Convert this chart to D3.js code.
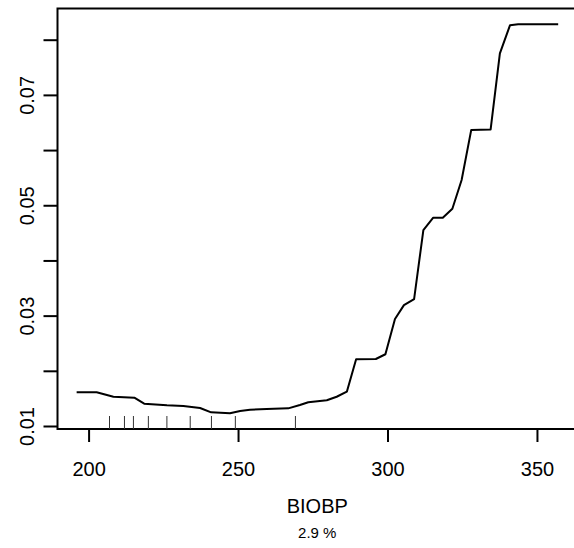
<!DOCTYPE html>
<html>
<head>
<meta charset="utf-8">
<script src="https://cdn.jsdelivr.net/npm/d3@7"></script>
<style>
html,body{margin:0;padding:0;background:#fff;}
svg{display:block;font-family:"Liberation Sans",Arial,Helvetica,sans-serif;}
</style>
</head>
<body>
<svg id="chart" width="574" height="548"></svg>
<script>
// Partial dependence of BIOBP
const xValues = [196.0, 202.7, 208.3, 215.3, 218.6, 226.2, 231.7, 237.3, 241.0, 247.3, 250.7, 254.0, 259.6, 266.8, 270.7, 273.5, 279.7, 283.0, 286.4, 289.5, 296.1, 299.3, 302.5, 305.5, 308.9, 312.0, 315.3, 318.5, 321.7, 324.8, 328.0, 334.5, 337.6, 341.0, 343.7, 357.1];
const yValues = [0.0161, 0.0161, 0.01531, 0.01513, 0.01404, 0.01375, 0.01362, 0.01326, 0.01248, 0.0123, 0.01272, 0.01295, 0.0131, 0.0132, 0.0138, 0.0143, 0.01466, 0.0153, 0.01622, 0.0221, 0.02214, 0.0230, 0.02938, 0.0319, 0.0330, 0.04551, 0.04774, 0.04774, 0.04937, 0.05457, 0.06362, 0.06375, 0.07752, 0.08264, 0.0828, 0.0828];
const rugValues = [207.0, 212.0, 215.0, 220.0, 226.2, 234.0, 241.1, 249.1, 269.2];
const xTicks = [200, 250, 300, 350];
const yTicks = [0.01, 0.02, 0.03, 0.04, 0.05, 0.06, 0.07, 0.08];
const yLabelTicks = [0.01, 0.03, 0.05, 0.07];
const xTitle = "BIOBP";
const subTitle = "2.9 %";

const svg = d3.select("#chart");
const x = d3.scaleLinear().domain([189.6, 364.4]).range([57.5, 580]);
const y = d3.scaleLinear().domain([0.009456, 0.085654]).range([429, 8.5]);

// box
svg.append("rect")
  .attr("x", x.range()[0]).attr("y", y.range()[1])
  .attr("width", x.range()[1] - x.range()[0])
  .attr("height", y.range()[0] - y.range()[1])
  .attr("fill", "none").attr("stroke", "#000").attr("stroke-width", 2);

// y axis
const yAxis = d3.axisLeft(y).tickValues(yTicks).tickSize(14).tickSizeOuter(0)
  .tickFormat(d => yLabelTicks.some(v => Math.abs(v - d) < 1e-9) ? d3.format(".2f")(d) : "");
const gy = svg.append("g").attr("transform", `translate(${x.range()[0]},0)`).call(yAxis);
gy.select(".domain").remove();
gy.selectAll(".tick line").attr("stroke", "#000").attr("stroke-width", 2);
gy.selectAll(".tick text")
  .attr("transform", "rotate(-90)")
  .attr("x", 0).attr("y", -24).attr("dy", null)
  .attr("text-anchor", "middle")
  .attr("fill", "#000")
  .style("font-size", "20px")
  .style("font-family", "Liberation Sans, Arial, sans-serif");

// x axis
const xAxis = d3.axisBottom(x).tickValues(xTicks).tickSize(13).tickSizeOuter(0).tickFormat(d3.format("d"));
const gx = svg.append("g").attr("transform", `translate(0,${y.range()[0]})`).call(xAxis);
gx.select(".domain").remove();
gx.selectAll(".tick line").attr("stroke", "#000").attr("stroke-width", 2);
gx.selectAll(".tick text")
  .attr("y", 47).attr("dy", null)
  .attr("fill", "#000")
  .style("font-size", "20px")
  .style("font-family", "Liberation Sans, Arial, sans-serif");

// rug
svg.append("g").selectAll("line").data(rugValues).join("line")
  .attr("x1", d => x(d)).attr("x2", d => x(d))
  .attr("y1", y.range()[0]).attr("y2", y.range()[0] - 13)
  .attr("stroke", "#333").attr("stroke-width", 1);

// line
const pts = xValues.map((v, i) => [v, yValues[i]]);
svg.append("path").datum(pts)
  .attr("fill", "none").attr("stroke", "#000").attr("stroke-width", 2)
  .attr("stroke-linejoin", "round")
  .attr("d", d3.line().x(d => x(d[0])).y(d => y(d[1])));

// titles
const cx = (x.range()[0] + x.range()[1]) / 2 - 1.5;
svg.append("text").attr("x", cx).attr("y", 513).attr("text-anchor", "middle")
  .style("font-size", "20px").text(xTitle);
svg.append("text").attr("x", cx).attr("y", 538).attr("text-anchor", "middle")
  .style("font-size", "15px").text(subTitle);
</script>
</body>
</html>
